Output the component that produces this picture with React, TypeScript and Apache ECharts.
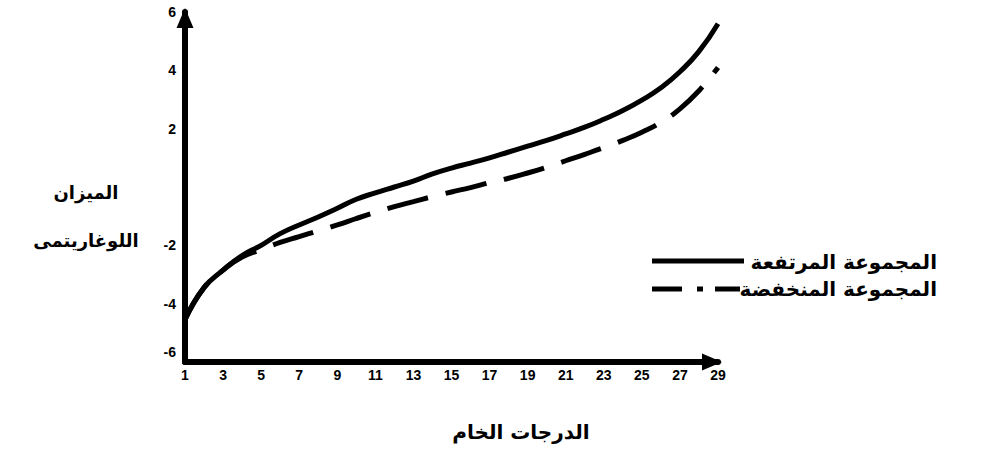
import React, { useEffect, useRef } from "react";
import * as echarts from "echarts";

const categories = ["1","2","3","4","5","6","7","8","9","10","11","12","13","14","15","16","17","18","19","20","21","22","23","24","25","26","27","28","29"];
const highGroup = [-4.55, -3.45, -2.85, -2.35, -2.0, -1.6, -1.3, -1.03, -0.73, -0.42, -0.2, 0.0, 0.2, 0.45, 0.65, 0.82, 1.0, 1.2, 1.4, 1.6, 1.82, 2.05, 2.32, 2.62, 2.98, 3.4, 3.95, 4.65, 5.6];
const lowGroup = [-4.55, -3.45, -2.85, -2.4, -2.15, -1.9, -1.7, -1.5, -1.3, -1.08, -0.87, -0.67, -0.5, -0.33, -0.17, -0.02, 0.15, 0.3, 0.48, 0.68, 0.9, 1.12, 1.35, 1.6, 1.88, 2.22, 2.68, 3.3, 4.1];
const yTicks = { min: -6, max: 6, step: 2 };
const highLabel = "المجموعة المرتفعة";
const lowLabel = "المجموعة المنخفضة";
const yTitle1 = "الميزان";
const yTitle2 = "اللوغاريتمى";
const xTitle = "الدرجات الخام";

const AR_FONT = "bold 20px 'DejaVu Sans', sans-serif";
const AR_FONT_Y = "bold 18px 'DejaVu Sans', sans-serif";
const NUM_FONT = "'Liberation Sans', Arial, sans-serif";

export default function App() {
  const ref = useRef<HTMLDivElement>(null);
  useEffect(() => {
    document.body.style.margin = "0";
    if (!ref.current) return;
    const chart = echarts.init(ref.current, null, { renderer: "svg" });
    chart.setOption({
      animation: false,
      backgroundColor: "#ffffff",
      grid: { left: 185, right: 269, top: 12, bottom: 92, containLabel: false },
      xAxis: {
        type: "category",
        data: categories,
        boundaryGap: false,
        axisLine: {
          show: true,
          onZero: false,
          lineStyle: { color: "#000", width: 6 },
          symbol: ["none", "triangle"],
          symbolSize: [17, 20],
          symbolOffset: [0, -6],
        },
        axisTick: { show: true, interval: 1, length: 3, lineStyle: { color: "#000", width: 1 } },
        axisLabel: {
          interval: 1,
          color: "#000",
          fontWeight: "bold",
          fontSize: 14,
          fontFamily: NUM_FONT,
          margin: 6,
        },
        splitLine: { show: false },
      },
      yAxis: {
        type: "value",
        min: yTicks.min,
        max: yTicks.max,
        interval: yTicks.step,
        axisLine: {
          show: true,
          onZero: false,
          lineStyle: { color: "#000", width: 6 },
          symbol: ["none", "triangle"],
          symbolSize: [17, 20],
          symbolOffset: [0, -6],
        },
        axisTick: { show: true, length: 3, lineStyle: { color: "#000", width: 1 } },
        axisLabel: {
          color: "#000",
          fontWeight: "bold",
          fontSize: 14,
          fontFamily: NUM_FONT,
          margin: 9,
          formatter: (v: number) => (v === 0 ? "" : v === yTicks.min ? "{up|" + v + "}" : String(v)),
          rich: {
            up: { color: "#000", fontWeight: "bold", fontSize: 14, fontFamily: NUM_FONT, padding: [0, 0, 20, 0] },
          },
        },
        splitLine: { show: false },
      },
      series: [
        {
          name: highLabel,
          type: "line",
          data: highGroup,
          smooth: true,
          symbol: "none",
          lineStyle: { color: "#000", width: 5 },
          z: 3,
        },
        {
          name: lowLabel,
          type: "line",
          data: lowGroup,
          smooth: true,
          symbol: "none",
          lineStyle: { color: "#000", width: 5, type: [42, 18], dashOffset: 0 },
          z: 2,
        },
      ],
      graphic: [
        { type: "text", style: { x: 86, y: 192, text: yTitle1, font: AR_FONT_Y, fill: "#000", align: "center", verticalAlign: "middle" } },
        { type: "text", style: { x: 86, y: 240, text: yTitle2, font: AR_FONT_Y, fill: "#000", align: "center", verticalAlign: "middle" } },
        { type: "text", style: { x: 521, y: 432, text: xTitle, font: AR_FONT, fill: "#000", align: "center", verticalAlign: "middle" } },
        { type: "text", style: { x: 937, y: 262, text: highLabel, font: AR_FONT, fill: "#000", align: "right", verticalAlign: "middle" } },
        { type: "text", style: { x: 937, y: 289, text: lowLabel, font: AR_FONT, fill: "#000", align: "right", verticalAlign: "middle" } },
        { type: "line", shape: { x1: 652, y1: 261, x2: 744, y2: 261 }, style: { stroke: "#000", lineWidth: 5 } },
        { type: "line", shape: { x1: 652, y1: 289, x2: 682, y2: 289 }, style: { stroke: "#000", lineWidth: 5 } },
        { type: "line", shape: { x1: 697, y1: 289, x2: 703, y2: 289 }, style: { stroke: "#000", lineWidth: 5 } },
        { type: "line", shape: { x1: 715, y1: 289, x2: 740, y2: 289 }, style: { stroke: "#000", lineWidth: 5 } },
      ],
    });
    return () => chart.dispose();
  }, []);
  return <div ref={ref} style={{ width: 987, height: 454 }} />;
}
